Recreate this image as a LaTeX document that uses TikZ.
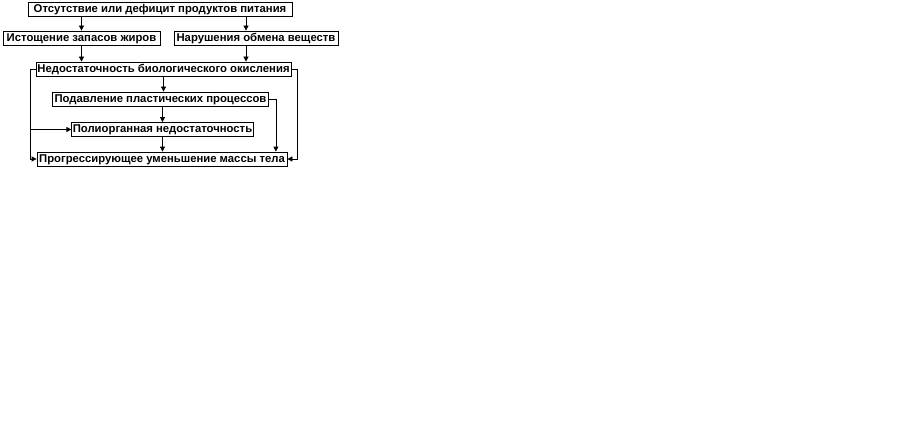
\documentclass[tikz,border=0pt]{standalone}
\usepackage{fontspec}
\setmainfont{Liberation Sans}
\usetikzlibrary{arrows.meta,calc,positioning}
\begin{document}
\begin{tikzpicture}[
  x=1pt, y=-1pt,
  font=\fontsize{11.3}{12}\selectfont\bfseries,
  box/.style={draw=black, line width=0.8pt, fill=white, inner sep=1pt,
              minimum height=14pt, text height=8.5pt, text depth=2pt},
  arr/.style={-{Triangle[length=5pt,width=5pt]}, line width=0.8pt},
  ln/.style={line width=0.8pt},
]
\useasboundingbox (0,0) rectangle (901,441);

% ---- boxes ----
\node[box, minimum width=264pt] (lack) at (160,9)   {Отсутствие или дефицит продуктов питания};
\node[box, minimum width=157pt] (fat)  at (81.5,38) {Истощение запасов жиров};
\node[box, minimum width=164pt] (meta) at (256,38)  {Нарушения обмена веществ};
\node[box, minimum width=255pt] (oxid) at (163.5,69) {Недостаточность биологического окисления};
\node[box, minimum width=216pt] (plas) at (160.5,99) {Подавление пластических процессов};
\node[box, minimum width=180pt] (organ) at (162.5,129.5) {Полиорганная недостаточность};
\node[box, minimum width=250pt] (mass) at (162,159) {Прогрессирующее уменьшение массы тела};

% ---- side lines ----
\coordinate (lft)  at ($(oxid.west)+(-5,0)$);
\coordinate (rgt)  at ($(plas.east)+(7,0)$);
\coordinate (rgt2) at ($(oxid.east)+(6,0)$);

% ---- edges ----
\draw[arr] (lack.south -| fat.north) -- (fat.north);
\draw[arr] ([xshift=-10pt]meta.north |- lack.south) -- ([xshift=-10pt]meta.north);
\draw[arr] (fat.south) -- (fat.south |- oxid.north);
\draw[arr] ([xshift=-10pt]meta.south) -- ([xshift=-10pt]meta.south |- oxid.north);
\draw[arr] (oxid.south) -- (oxid.south |- plas.north);
\draw[arr] (plas.south -| organ.north) -- (organ.north);
\draw[arr] (organ.south) -- (organ.south |- mass.north);
\draw[ln]  (oxid.west) -- (lft);
\draw[arr] (lft) |- (mass.west);
\draw[arr] (lft |- organ.west) -- (organ.west);
\draw[arr] (plas.east) -| (rgt |- mass.north);
\draw[arr] (oxid.east) -- (rgt2) |- (mass.east);
\end{tikzpicture}
\end{document}
